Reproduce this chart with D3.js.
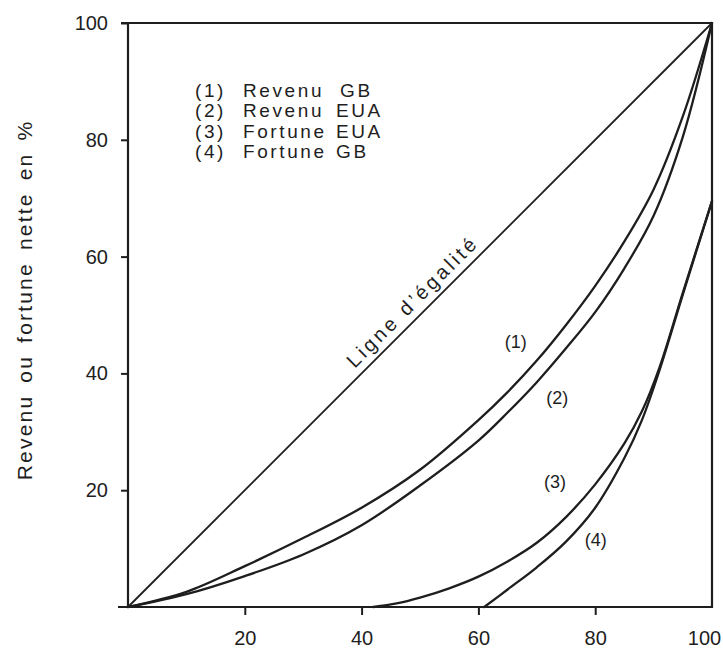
<!DOCTYPE html>
<html>
<head>
<meta charset="utf-8">
<script src="https://cdn.jsdelivr.net/npm/d3@7"></script>
<style>
  html, body { margin: 0; padding: 0; background: #ffffff; }
  svg { display: block; font-family: "Liberation Sans", Arial, Helvetica, sans-serif; }
</style>
</head>
<body>
<svg id="chart" width="723" height="650"></svg>
<script>
// ---- data ----
const xTicks = [20, 40, 60, 80, 100];
const yTicks = [20, 40, 60, 80, 100];

const equalityX = [0, 100];
const equalityY = [0, 100];

const revenuGBx = [0, 10, 20, 30, 40, 50, 60, 65, 70, 75, 80, 85, 90, 95, 100];
const revenuGBy = [0, 2.6, 7, 11.8, 17, 23.5, 32, 36.8, 42.2, 48.3, 55, 62.6, 71.5, 84, 100];

const revenuEUAx = [0, 10, 20, 30, 40, 50, 60, 65, 70, 75, 80, 85, 90, 95, 100];
const revenuEUAy = [0, 2.2, 5.3, 9, 14, 20.8, 28.5, 33.3, 38.5, 44.3, 50.5, 58, 67, 80.5, 100];

const fortuneEUAx = [42, 46, 50, 55, 60, 65, 70, 75, 80, 85, 88, 91, 95, 100];
const fortuneEUAy = [0, 0.6, 1.6, 3.2, 5.2, 7.8, 11, 15.4, 21, 28, 33.5, 41, 53.8, 69.5];

const fortuneGBx = [61, 65, 70, 75, 80, 85, 88, 91, 95, 100];
const fortuneGBy = [0, 3, 6.8, 11.2, 17, 25.5, 32, 40.5, 53.5, 69.5];

const legendNums = ["(1)", "(2)", "(3)", "(4)"];
const legendWord1 = ["Revenu", "Revenu", "Fortune", "Fortune"];
const legendWord2 = ["GB", "EUA", "EUA", "GB"];

const curveLabels = ["(1)", "(2)", "(3)", "(4)"];
const curveLabelX = [66.4, 73.5, 73.1, 80.1];
const curveLabelY = [45.4, 35.8, 21.4, 11.5];

const yTitle = "Revenu ou fortune nette en %";
const equalityLabel = "Ligne d\u2019égalité";

// ---- drawing ----
const ink = "#1e1e1e";
const svg = d3.select("#chart");
const x = d3.scaleLinear().domain([0, 100]).range([128, 712]);
const y = d3.scaleLinear().domain([0, 100]).range([607, 23]);

const zip = (xs, ys) => xs.map((v, i) => [v, ys[i]]);
const line = d3.line().x(d => x(d[0])).y(d => y(d[1])).curve(d3.curveCatmullRom.alpha(0.5));
const straight = d3.line().x(d => x(d[0])).y(d => y(d[1]));

// axes
const gy = svg.append("g").attr("transform", `translate(${x(0)},0)`)
  .call(d3.axisLeft(y).tickValues(yTicks).tickSize(7).tickPadding(13).tickFormat(d3.format("d")));
const gx = svg.append("g").attr("transform", `translate(0,${y(0)})`)
  .call(d3.axisBottom(x).tickValues(xTicks).tickSize(8).tickPadding(16).tickFormat(d3.format("d")));
[gy, gx].forEach(g => {
  g.select(".domain").remove();
  g.selectAll(".tick line").attr("stroke", ink).attr("stroke-width", 2);
  g.selectAll(".tick text").attr("fill", ink).style("font-size", "20px")
    .style("font-family", "'Liberation Sans', Arial, sans-serif");
});
gx.selectAll(".tick").filter(d => d === 100).select("line").remove();
gx.selectAll(".tick").filter(d => d === 100).select("text").attr("dx", -8);

// frame
svg.append("path")
  .attr("d", `M${x(0) - 7},${y(100)}H${x(100)}V${y(0)}H${x(0) - 10}M${x(0)},${y(0)}V${y(100)}`)
  .attr("fill", "none").attr("stroke", ink).attr("stroke-width", 2.2);

// equality line
svg.append("path").attr("d", straight(zip(equalityX, equalityY)))
  .attr("fill", "none").attr("stroke", ink).attr("stroke-width", 1.8);

// curves
[[revenuGBx, revenuGBy], [revenuEUAx, revenuEUAy], [fortuneEUAx, fortuneEUAy], [fortuneGBx, fortuneGBy]]
  .forEach(([xs, ys]) => {
    svg.append("path").attr("d", line(zip(xs, ys)))
      .attr("fill", "none").attr("stroke", ink).attr("stroke-width", 2.3)
      .attr("stroke-linecap", "round");
  });

// equality label
const ex = x(50.5), ey = y(50.5);
svg.append("text")
  .attr("transform", `translate(${ex},${ey}) rotate(-45)`)
  .attr("text-anchor", "middle").attr("dy", -8)
  .style("font-size", "20px").style("letter-spacing", "3.2px")
  .attr("fill", ink).text(equalityLabel);

// curve labels
curveLabels.forEach((t, i) => {
  svg.append("text").attr("x", x(curveLabelX[i])).attr("y", y(curveLabelY[i]))
    .attr("text-anchor", "middle").attr("dy", "0.35em")
    .style("font-size", "18px").attr("fill", ink).text(t);
});

// legend
legendNums.forEach((t, i) => {
  const by = 97 + i * 20.3;
  const st = sel => sel.attr("y", by).style("font-size", "19px")
    .style("letter-spacing", "2.6px").attr("fill", ink);
  svg.append("text").attr("x", 195).call(st).text(t);
  svg.append("text").attr("x", 243).call(st).text(legendWord1[i]);
  svg.append("text").attr("x", i === 0 ? 340 : 336).call(st).text(legendWord2[i]);
});

// y title
svg.append("text")
  .attr("transform", `translate(32,300) rotate(-90)`)
  .attr("text-anchor", "middle")
  .style("font-size", "21px").style("letter-spacing", "2.2px").style("word-spacing", "4px")
  .attr("fill", ink).text(yTitle);
</script>
</body>
</html>
